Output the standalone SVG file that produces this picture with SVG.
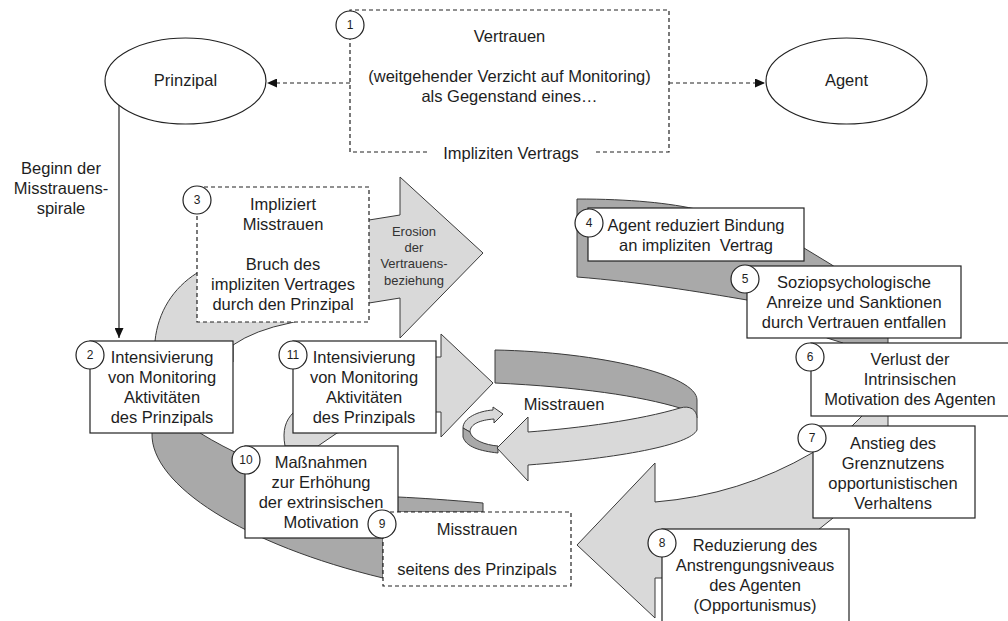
<svg xmlns="http://www.w3.org/2000/svg" width="1008" height="621" viewBox="0 0 1008 621">
  <style>
    text { font-family: 'Liberation Sans', Arial, sans-serif; font-size: 16.5px; fill: #1e1e1e; text-anchor: middle; }
    .num { font-size: 12px; }
    .small { font-size: 13px; fill: #333; }
    .box { fill: #fff; stroke: #222; stroke-width: 1.2; }
    .dbox { fill: #fff; stroke: #222; stroke-width: 1.2; stroke-dasharray: 4 3; }
    .badge { fill: #fff; stroke: #222; stroke-width: 1.2; }
    .light { fill: #d9d9d9; stroke: #3a3a3a; stroke-width: 1; stroke-linejoin: round; }
    .dark { fill: #a9a9a9; stroke: #3a3a3a; stroke-width: 1; stroke-linejoin: round; }
    .ell { fill: #fff; stroke: #222; stroke-width: 1.2; }
    .dash { fill: none; stroke: #222; stroke-width: 1.2; stroke-dasharray: 4 3; }
    .solid { fill: none; stroke: #222; stroke-width: 1.2; }
  </style>
  <defs>
    <marker id="tip" markerUnits="userSpaceOnUse" markerWidth="11" markerHeight="9" refX="10" refY="4.5" orient="auto">
      <path d="M0,0 L10,4.5 L0,9 Z" fill="#111"/>
    </marker>
  </defs>
  <rect width="1008" height="621" fill="#fff"/>

  <!-- spiral bands -->
  <g id="spiral">
    <!-- upper-left light band with the erosion arrow -->
    <path class="light" d="M155,362 L155,341 C158,312 173,288 197,273 L369,220 L400,215 L400,177 L483,253 L400,338 L400,298 L369,303 L290,323 Q255,330 233,345 L233,362 Z"/>
    <!-- lower-left dark band -->
    <path class="dark" d="M150,400 L152,433 C150,485 245,545 383,578 L383,512 L483,512 L483,503 C450,500 420,498 398,497 C330,490 260,470 200,433 L200,400 Z"/>
    <!-- inner light band leading to the arrow at box 11 -->
    <path class="light" d="M285,446 C282,430 286,420 293,413 L300,405 L436,357 L441,357 L441,334 L493,383 L441,437 L441,412 L436,412 L337,433 L318,446 Z"/>
    <!-- upper-right dark band -->
    <path class="dark" d="M577,199 C630,199 670,203 700,210 L804,248 L832,265 C860,285 885,310 888,338 L888,385 L860,385 L843,343 L827,338 C800,320 780,305 747,300 C700,292 640,282 577,277 Z"/>
    <!-- right light band ending in the big arrow -->
    <path class="light" d="M888,375 L888,426 L840,510 L833,518 L818,530 C760,560 700,575 662,578 L655,578 L655,618 L577,545 L655,463 L655,502 Q740,495 812,453 L852,426 L862,416 L858,375 Z"/>
    <!-- central ring: back part -->
    <path class="dark" d="M495,350 C600,352 697,375 697,400 L697,418 C692,412 686,409 680,408 C640,396 580,387 495,383 Z"/>
    <!-- small curl -->
    <path class="light" d="M493,407 L503,414 L494,423 L494,419 C480,420 470,424 470,432 L463,428 C463,418 478,411 493,410 Z"/>
    <path class="dark" d="M463,428 L463,437 C466,447 480,451 498,453 L498,446 C485,445 472,440 470,432 Z"/>
    <!-- central ring: front part with arrow -->
    <path class="light" d="M528,432 C580,428 640,420 680,408 C690,405 697,410 697,418 L697,430 C690,445 620,458 528,465 L528,481 L497,448 L528,417 Z"/>
    <text x="564" y="410">Misstrauen</text>
    <text class="small" x="414" y="236">Erosion</text>
    <text class="small" x="414" y="252">der</text>
    <text class="small" x="414" y="268">Vertrauens-</text>
    <text class="small" x="414" y="285">beziehung</text>
  </g>

  <!-- connectors -->
  <g id="connectors">
    <line class="dash" x1="350" y1="83" x2="267" y2="83" marker-end="url(#tip)"/>
    <line class="dash" x1="669" y1="83" x2="765" y2="83" marker-end="url(#tip)"/>
    <line class="solid" x1="119" y1="105" x2="119" y2="338" marker-end="url(#tip)"/>
    <text x="61" y="174">Beginn der</text>
    <text x="61" y="194">Misstrauens-</text>
    <text x="61" y="214">spirale</text>
  </g>

  <g id="prinzipal">
    <ellipse class="ell" cx="185.5" cy="81" rx="80.5" ry="43"/>
    <text x="185.5" y="86">Prinzipal</text>
  </g>

  <g id="agent">
    <ellipse class="ell" cx="846.5" cy="81" rx="80.5" ry="43"/>
    <text x="846.5" y="86">Agent</text>
  </g>

  <g id="node1">
    <path class="dash" d="M427,152 L350,152 L350,10 L669,10 L669,152 L596,152"/>
    <text x="509.5" y="42">Vertrauen</text>
    <text x="509.5" y="82">(weitgehender Verzicht auf Monitoring)</text>
    <text x="509.5" y="102">als Gegenstand eines…</text>
    <text x="511" y="159">Impliziten Vertrags</text>
    <circle class="badge" cx="350" cy="25" r="14"/>
    <text class="num" x="350" y="29">1</text>
  </g>

  <g id="node3">
    <rect class="dbox" x="197" y="187" width="172" height="135"/>
    <text x="283" y="210">Impliziert</text>
    <text x="283" y="230">Misstrauen</text>
    <text x="283" y="270">Bruch des</text>
    <text x="283" y="290">impliziten Vertrages</text>
    <text x="283" y="310">durch den Prinzipal</text>
    <circle class="badge" cx="197" cy="200" r="14"/>
    <text class="num" x="197" y="204">3</text>
  </g>

  <g id="node2">
    <rect class="box" x="90" y="341" width="143" height="92"/>
    <text x="162" y="363">Intensivierung</text>
    <text x="162" y="383">von Monitoring</text>
    <text x="162" y="403">Aktivitäten</text>
    <text x="162" y="423">des Prinzipals</text>
    <circle class="badge" cx="90" cy="355" r="14"/>
    <text class="num" x="90" y="359">2</text>
  </g>

  <g id="node11">
    <rect class="box" x="293" y="341" width="143" height="92"/>
    <text x="364" y="363">Intensivierung</text>
    <text x="364" y="383">von Monitoring</text>
    <text x="364" y="403">Aktivitäten</text>
    <text x="364" y="423">des Prinzipals</text>
    <circle class="badge" cx="293" cy="355" r="14"/>
    <text class="num" x="293" y="359">11</text>
  </g>

  <g id="node10">
    <rect class="box" x="245" y="446" width="153" height="92"/>
    <text x="321" y="468">Maßnahmen</text>
    <text x="321" y="488">zur Erhöhung</text>
    <text x="321" y="508">der extrinsischen</text>
    <text x="321" y="528">Motivation</text>
    <circle class="badge" cx="246" cy="460" r="14"/>
    <text class="num" x="246" y="464">10</text>
  </g>

  <g id="node9">
    <rect class="dbox" x="383" y="512" width="188" height="74"/>
    <text x="477" y="535">Misstrauen</text>
    <text x="477" y="575">seitens des Prinzipals</text>
    <circle class="badge" cx="382" cy="524" r="14"/>
    <text class="num" x="382" y="528">9</text>
  </g>

  <g id="node4">
    <rect class="box" x="588" y="208" width="216" height="53"/>
    <text x="696" y="231">Agent reduziert Bindung</text>
    <text x="696" y="251" xml:space="preserve" style="white-space: pre">an impliziten  Vertrag</text>
    <circle class="badge" cx="589" cy="223" r="14"/>
    <text class="num" x="589" y="227">4</text>
  </g>

  <g id="node5">
    <rect class="box" x="747" y="266" width="214" height="72"/>
    <text x="854" y="288">Soziopsychologische</text>
    <text x="854" y="308">Anreize und Sanktionen</text>
    <text x="854" y="328">durch Vertrauen entfallen</text>
    <circle class="badge" cx="745" cy="279" r="14"/>
    <text class="num" x="745" y="283">5</text>
  </g>

  <g id="node6">
    <rect class="box" x="811" y="343" width="210" height="73"/>
    <text x="910" y="365">Verlust der</text>
    <text x="910" y="385">Intrinsischen</text>
    <text x="910" y="405">Motivation des Agenten</text>
    <circle class="badge" cx="810" cy="357" r="14"/>
    <text class="num" x="810" y="361">6</text>
  </g>

  <g id="node7">
    <rect class="box" x="813" y="426" width="162" height="92"/>
    <text x="893" y="449">Anstieg des</text>
    <text x="893" y="469">Grenznutzens</text>
    <text x="893" y="489">opportunistischen</text>
    <text x="893" y="509">Verhaltens</text>
    <circle class="badge" cx="812" cy="438" r="14"/>
    <text class="num" x="812" y="442">7</text>
  </g>

  <g id="node8">
    <rect class="box" x="662" y="529" width="187" height="100"/>
    <text x="755" y="551">Reduzierung des</text>
    <text x="755" y="571">Anstrengungsniveaus</text>
    <text x="755" y="591">des Agenten</text>
    <text x="755" y="611">(Opportunismus)</text>
    <circle class="badge" cx="662" cy="543" r="14"/>
    <text class="num" x="662" y="547">8</text>
  </g>
</svg>
